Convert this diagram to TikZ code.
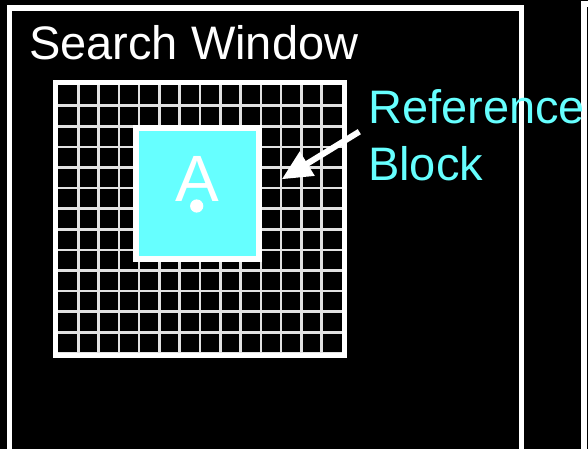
\documentclass[tikz,border=0pt]{standalone}
\usepackage{fontspec}
\setmainfont{Liberation Sans}
\usetikzlibrary{arrows.meta}
\definecolor{blockcyan}{RGB}{102,255,255}
\definecolor{gridgray}{RGB}{225,225,225}
\tikzset{
  frame/.style={draw=white, line width=5.5},
  gridline/.style={draw=gridgray, line width=2.6},
  gridborder/.style={draw=white, line width=5},
  refblock/.style={draw=white, fill=blockcyan, line width=6},
  whitelabel/.style={text=white, font=\fontsize{47}{57}\selectfont, inner sep=0pt},
  cyanlabel/.style={text=blockcyan, font=\fontsize{47}{57}\selectfont, inner sep=0pt, align=left},
  pointer/.style={draw=white, line width=6, -{Triangle[length=30pt,width=27pt]}}
}
\begin{document}
\begin{tikzpicture}[x=1pt,y=-1pt]
  \useasboundingbox (0,0) rectangle (588,449);
  \fill[black] (0,0) rectangle (588,449);
  \clip (0,0) rectangle (588,449);
  % frames
  \draw[frame] (9.3,470) -- (9.3,8) -- (521.5,8) -- (521.5,470);
  \draw[frame] (584,470) -- (584,4) -- (600,4);
  % grid
  \foreach \k in {1,...,13} {
    \draw[gridline] ({58+284/14*\k},85) -- ({58+284/14*\k},353);
    \draw[gridline] (58,{85+268/13*\k}) -- (342,{85+268/13*\k});
  }
  \draw[gridborder] (55.5,82.5) rectangle (344.5,355.5);
  % reference block
  \draw[refblock] (136,128) rectangle (259,259);
  \node[text=white, font=\fontsize{65.5}{70}\selectfont, inner sep=0pt, anchor=base] (letterA) at (197,201.7) {A};
  \fill[white] (196.7,206) circle[radius=6.6];
  % labels
  \node[whitelabel, anchor=base west] (search) at (29,60) {Search Window};
  \coordinate (arrowtail) at (359.3,131.7);
  \coordinate (arrowtip) at (281.7,179.3);
  \draw[pointer] (arrowtail) -- (arrowtip);
  \node[cyanlabel, anchor=base west] (reflabel) at (368,180) {Reference\\Block};
\end{tikzpicture}
\end{document}
